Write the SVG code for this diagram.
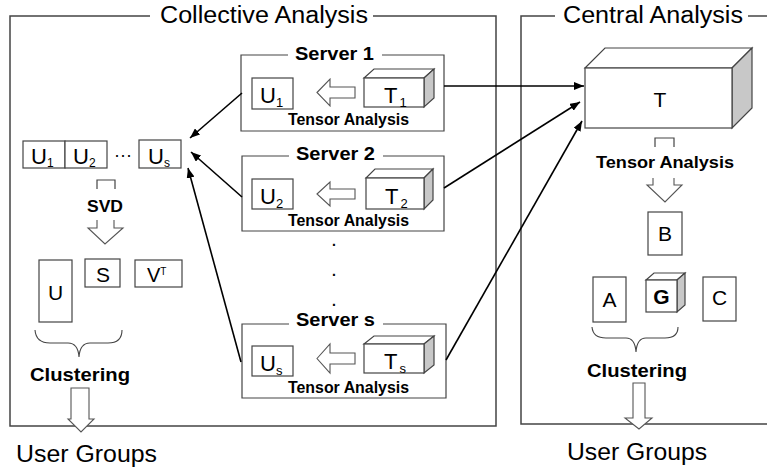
<svg xmlns="http://www.w3.org/2000/svg" width="767" height="472" viewBox="0 0 767 472">
<defs>
<style>
.frame{fill:none;stroke:#444;stroke-width:1.5}
.box{fill:#fff;stroke:#444;stroke-width:1.2}
.side{fill:#c8c8c8;stroke:#444;stroke-width:1.2}
.hol{fill:#fff;stroke:#555;stroke-width:1.1}
.conn{fill:none;stroke:#000;stroke-width:1.6}
.t{font-family:"Liberation Sans",Arial,sans-serif;fill:#000}
.b{font-family:"Liberation Sans",Arial,sans-serif;font-weight:bold;fill:#000}
.title{font-size:23px}
.lbl{font-size:21px;text-anchor:middle}
.sub{font-size:12px}
</style>
<marker id="ah" viewBox="0 0 10 8" refX="10" refY="4" markerWidth="10" markerHeight="8" markerUnits="userSpaceOnUse" orient="auto">
<path d="M0,0 L10,4 L0,8 Z" fill="#000"/>
</marker>
</defs>
<rect width="767" height="472" fill="#fff"/>

<g id="collective-frame">
<path class="frame" d="M150,16 H10 V426 H496 V16 H373"/>
<text class="t title" x="160" y="23" textLength="208" lengthAdjust="spacingAndGlyphs">Collective Analysis</text>
</g>

<g id="central-frame">
<path class="frame" d="M555,16 H521 V424 H767"/>
<path class="frame" d="M748,16 H767"/>
<text class="t title" x="563" y="23" textLength="180" lengthAdjust="spacingAndGlyphs">Central Analysis</text>
</g>

<g id="u-matrices">
<rect class="box" x="23" y="141" width="42" height="27"/>
<rect class="box" x="65" y="141" width="42" height="27"/>
<rect class="box" x="139" y="140" width="42" height="28"/>
<text class="t" x="31" y="164" font-size="22">U<tspan class="sub" dy="3" font-size="12">1</tspan></text>
<text class="t" x="73" y="164" font-size="22">U<tspan class="sub" dy="3" font-size="12">2</tspan></text>
<text class="t" x="114" y="161" font-size="18">···</text>
<text class="t" x="148" y="164" font-size="22">U<tspan class="sub" dy="3" font-size="12">s</tspan></text>
</g>

<g id="svd">
<path class="frame" style="stroke-width:1.2" d="M97,189 V180 H115 V189"/>
<text class="b" x="87" y="212" font-size="17" textLength="36" lengthAdjust="spacingAndGlyphs">SVD</text>
<path class="hol" d="M97,220 V228 H88 L105,244 L123,228 H114 V220"/>
</g>

<g id="svd-result">
<rect class="box" x="39" y="260" width="33" height="62"/>
<text class="t lbl" x="55.5" y="300" font-size="21">U</text>
<rect class="box" x="85" y="259" width="35" height="28"/>
<text class="t lbl" x="103" y="282" font-size="20">S</text>
<rect class="box" x="135" y="260" width="47" height="27"/>
<text class="t" x="147" y="282" font-size="20">V<tspan dy="-7" font-size="10">T</tspan></text>
</g>

<g id="clustering-left">
<path class="frame" style="stroke-width:1.1" d="M35,330 Q36,343 50,343 L68,343 Q78,343 79,357 Q80,343 90,343 L108,343 Q122,343 122,330"/>
<text class="b" x="30" y="381" font-size="18" textLength="100" lengthAdjust="spacingAndGlyphs">Clustering</text>
<path class="hol" d="M71,388 H89 V419 H94 L81,432 L68,419 H71 Z"/>
<text class="t title" x="16" y="462" font-size="24" textLength="141" lengthAdjust="spacingAndGlyphs">User Groups</text>
</g>

<g id="server-1">
<path class="frame" style="stroke-width:1.2" d="M288,55 H241 V131 H444 V55 H382"/>
<text class="b" x="295" y="60" font-size="19" textLength="79" lengthAdjust="spacingAndGlyphs">Server 1</text>
<rect class="box" x="252" y="78" width="41" height="31"/>
<text class="t" x="260" y="103" font-size="22">U<tspan dy="4" font-size="13">1</tspan></text>
<path class="hol" d="M317,92.5 L330,79 V87 H355 V98 H330 V106 Z"/>
<polygon class="box" points="364,78 374,69 434,69 424,78"/>
<polygon class="side" points="424,78 434,69 434,98 424,107"/>
<rect class="box" x="364" y="78" width="60" height="29"/>
<text class="t" x="384" y="103" font-size="22">T<tspan dx="2" dy="4" font-size="13">1</tspan></text>
<text class="b" x="288" y="125" font-size="16" textLength="121" lengthAdjust="spacingAndGlyphs">Tensor Analysis</text>
</g>

<g id="server-2">
<path class="frame" style="stroke-width:1.2" d="M289,156 H242 V231 H444 V156 H383"/>
<text class="b" x="296" y="160" font-size="19" textLength="79" lengthAdjust="spacingAndGlyphs">Server 2</text>
<rect class="box" x="252" y="179" width="41" height="30"/>
<text class="t" x="260" y="204" font-size="22">U<tspan dy="4" font-size="13">2</tspan></text>
<path class="hol" d="M317,194 L330,182 V189 H355 V199 H330 V206 Z"/>
<polygon class="box" points="366,178 375,169 433,169 424,178"/>
<polygon class="side" points="424,178 433,169 433,200 424,209"/>
<rect class="box" x="366" y="178" width="58" height="31"/>
<text class="t" x="385" y="204" font-size="22">T<tspan dx="2" dy="4" font-size="13">2</tspan></text>
<text class="b" x="288" y="226" font-size="16" textLength="121" lengthAdjust="spacingAndGlyphs">Tensor Analysis</text>
</g>

<g id="server-dots">
<text class="b" x="334" y="246" font-size="14" text-anchor="middle">.</text>
<text class="b" x="334" y="276" font-size="14" text-anchor="middle">.</text>
<text class="b" x="334" y="306" font-size="14" text-anchor="middle">.</text>
</g>

<g id="server-s">
<path class="frame" style="stroke-width:1.2" d="M289,324 H242 V398 H446 V324 H383"/>
<text class="b" x="296" y="326" font-size="19" textLength="79" lengthAdjust="spacingAndGlyphs">Server s</text>
<rect class="box" x="252" y="346" width="41" height="30"/>
<text class="t" x="260" y="371" font-size="22">U<tspan dy="4" font-size="13">s</tspan></text>
<path class="hol" d="M317,358.5 L330,344 V353 H355 V364 H330 V373 Z"/>
<polygon class="box" points="364,344 374,336 434,336 424,344"/>
<polygon class="side" points="424,344 434,336 434,365 424,373"/>
<rect class="box" x="364" y="344" width="60" height="29"/>
<text class="t" x="384" y="369" font-size="22">T<tspan dx="2" dy="4" font-size="13">s</tspan></text>
<text class="b" x="288" y="393" font-size="16" textLength="121" lengthAdjust="spacingAndGlyphs">Tensor Analysis</text>
</g>

<g id="central-tensor">
<polygon class="box" points="585,68 605,48 752,48 732,68"/>
<polygon class="side" points="732,68 752,48 752,108 732,128"/>
<rect class="box" x="585" y="68" width="147" height="60"/>
<text class="t lbl" x="660" y="107" font-size="27">T</text>
</g>

<g id="central-analysis">
<path class="frame" style="stroke-width:1.2" d="M655,147 V138 H674 V147"/>
<text class="b" x="596" y="168" font-size="17" textLength="138" lengthAdjust="spacingAndGlyphs">Tensor Analysis</text>
<path class="hol" d="M653,178 V185 H647 L665,202 L682,185 H674 V178"/>
</g>

<g id="central-result">
<rect class="box" x="648" y="212" width="34" height="43"/>
<text class="t lbl" x="665" y="241" font-size="20">B</text>
<rect class="box" x="593" y="277" width="33" height="45"/>
<text class="t lbl" x="609.5" y="307" font-size="21">A</text>
<polygon class="box" points="646,280 654,273 685,273 677,280"/>
<polygon class="side" points="677,280 685,273 685,305 677,312"/>
<rect class="box" x="646" y="280" width="31" height="32"/>
<text class="t lbl" x="661.5" y="304" font-size="22" font-weight="bold">G</text>
<rect class="box" x="703" y="277" width="33" height="44"/>
<text class="t lbl" x="719.5" y="305" font-size="21">C</text>
</g>

<g id="clustering-right">
<path class="frame" style="stroke-width:1.1" d="M592,327 Q593,338 606,338 L626,338 Q635,338 636,352 Q637,338 646,338 L665,338 Q678,338 678,327"/>
<text class="b" x="587" y="377" font-size="18" textLength="100" lengthAdjust="spacingAndGlyphs">Clustering</text>
<path class="hol" d="M633,383 H645 V418 H652 L639,429 L625,418 H633 Z"/>
<text class="t title" x="567" y="460" font-size="24" textLength="140" lengthAdjust="spacingAndGlyphs">User Groups</text>
</g>

<g id="connectors">
<line class="conn" x1="242" y1="93" x2="190" y2="138" marker-end="url(#ah)"/>
<line class="conn" x1="242" y1="197" x2="191" y2="152" marker-end="url(#ah)"/>
<line class="conn" x1="241" y1="362" x2="188" y2="168" marker-end="url(#ah)"/>
<line class="conn" x1="444" y1="86" x2="584" y2="86" marker-end="url(#ah)"/>
<line class="conn" x1="444" y1="188" x2="580" y2="102" marker-end="url(#ah)"/>
<line class="conn" x1="446" y1="360" x2="582" y2="121" marker-end="url(#ah)"/>
</g>
</svg>
